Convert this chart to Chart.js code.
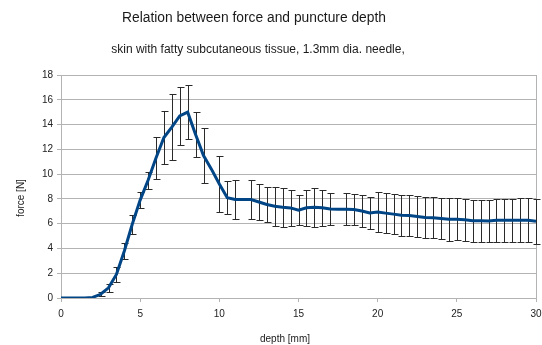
<!DOCTYPE html>
<html><head><meta charset="utf-8">
<script src="https://cdn.jsdelivr.net/npm/chart.js@4"></script>
<style>html,body{margin:0;padding:0;background:#fff}#wrap{width:542px;height:345px}</style>
</head><body><div id="wrap"><canvas id="c" width="542" height="345"></canvas></div>
<script>
const titleText = "Relation between force and puncture depth";
const subtitleText = "skin with fatty subcutaneous tissue, 1.3mm dia. needle,";
const xAxisTitle = "depth [mm]";
const yAxisTitle = "force [N]";

const depth = [0,0.5,1,1.5,2,2.5,3,3.5,4,4.5,5,5.5,6,6.5,7,7.5,8,8.5,9,9.5,10,10.5,11,11.5,12,12.5,13,13.5,14,14.5,15,15.5,16,16.5,17,17.5,18,18.5,19,19.5,20,20.5,21,21.5,22,22.5,23,23.5,24,24.5,25,25.5,26,26.5,27,27.5,28,28.5,29,29.5,30];
const force = [0,0,0,0,0.05,0.3,0.82,1.9,3.8,5.95,7.9,9.5,11.3,12.95,13.8,14.7,15.0,13.2,11.5,10.4,9.2,8.1,7.95,7.95,7.95,7.75,7.55,7.4,7.32,7.27,7.08,7.28,7.33,7.28,7.18,7.17,7.17,7.15,7.02,6.87,6.95,6.85,6.77,6.68,6.66,6.58,6.5,6.47,6.42,6.36,6.36,6.31,6.23,6.23,6.22,6.28,6.28,6.28,6.28,6.28,6.2];
const forceError = [0,0,0,0,0,0.17,0.35,0.6,0.66,0.77,0.67,0.71,1.72,2.17,2.65,2.35,2.18,1.85,2.22,null,2.28,1.32,1.6,null,1.55,1.42,1.44,1.55,1.58,1.43,1.2,1.43,1.56,1.45,1.32,null,1.28,1.24,1.27,1.28,1.6,1.6,1.62,1.64,1.66,1.68,1.66,1.66,1.68,1.72,1.7,1.7,1.72,1.72,1.72,1.74,1.72,1.74,1.76,1.78,1.82];
const xTicks = [0,5,10,15,20,25,30];
const yTicks = [0,2,4,6,8,10,12,14,16,18];

const FONT = "'Liberation Sans', Arial, sans-serif";
const GRID = '#b3b3b3';

const textPlugin = {
  id: 'texts',
  afterDraw(chart) {
    const ctx = chart.ctx;
    ctx.save();
    ctx.fillStyle = '#1a1a1a';
    ctx.textAlign = 'center';
    ctx.textBaseline = 'middle';
    ctx.font = '13.8px ' + FONT;
    ctx.fillText(titleText, 254, 18);
    ctx.font = '12px ' + FONT;
    ctx.fillText(subtitleText, 258, 50);
    ctx.font = '10px ' + FONT;
    ctx.fillText(xAxisTitle, 285, 339);
    ctx.translate(21, 198);
    ctx.rotate(-Math.PI / 2);
    ctx.fillText(yAxisTitle, 0, 0);
    ctx.restore();
  }
};

const errorBars = {
  id: 'errorBars',
  beforeDatasetsDraw(chart) {
    const {ctx, scales: {x, y}} = chart;
    ctx.save();
    ctx.strokeStyle = '#2a2a2a';
    ctx.lineWidth = 1;
    depth.forEach((d, i) => {
      const e = forceError[i];
      if (!e) return;
      const px = Math.round(x.getPixelForValue(d)) + 0.5;
      const yt = Math.round(y.getPixelForValue(force[i] + e)) + 0.5;
      const yb = Math.round(y.getPixelForValue(force[i] - e)) + 0.5;
      ctx.beginPath();
      ctx.moveTo(px, yt); ctx.lineTo(px, yb);
      ctx.moveTo(px - 3, yt); ctx.lineTo(px + 4, yt);
      ctx.moveTo(px - 3, yb); ctx.lineTo(px + 4, yb);
      ctx.stroke();
    });
    ctx.restore();
  }
};

new Chart(document.getElementById('c'), {
  type: 'line',
  data: {
    datasets: [{
      data: depth.map((d, i) => ({x: d, y: force[i]})),
      borderColor: '#004586',
      backgroundColor: '#004586',
      borderWidth: 3,
      pointRadius: 0,
      tension: 0,
      fill: false
    }]
  },
  options: {
    responsive: false,
    devicePixelRatio: 1,
    animation: false,
    events: [],
    layout: {padding: {top: 75, right: 0, left: 0, bottom: 0}},
    plugins: {legend: {display: false}, title: {display: false}, tooltip: {enabled: false}},
    scales: {
      x: {
        type: 'linear',
        min: 0, max: 30,
        afterBuildTicks: (s) => { s.ticks = xTicks.map(v => ({value: v})); },
        afterFit: (s) => { s.height = 47; s.paddingRight = 6; s.paddingLeft = 0; },
        ticks: {font: {family: FONT, size: 10}, color: '#222', padding: 6, maxRotation: 0},
        grid: {
          color: (c) => (c.tick && c.tick.value === 30) ? GRID : 'rgba(0,0,0,0)',
          tickColor: GRID, tickLength: 4, lineWidth: 1
        },
        border: {color: GRID}
      },
      y: {
        type: 'linear',
        min: 0, max: 18,
        afterBuildTicks: (s) => { s.ticks = yTicks.map(v => ({value: v})); },
        afterFit: (s) => { s.width = 61; },
        ticks: {font: {family: FONT, size: 10}, color: '#222', padding: 4},
        grid: {color: GRID, tickColor: GRID, tickLength: 4, lineWidth: 1},
        border: {color: GRID}
      }
    }
  },
  plugins: [errorBars, textPlugin]
});
</script>
</body></html>
